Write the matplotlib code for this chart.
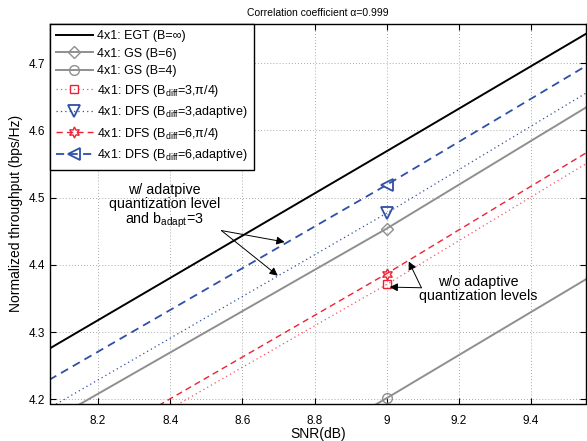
import matplotlib
matplotlib.use("Agg")
import matplotlib.pyplot as plt
from matplotlib.ticker import FuncFormatter

plt.rcParams['font.family'] = ['Liberation Sans', 'DejaVu Sans']
plt.rcParams['mathtext.fontset'] = 'custom'
plt.rcParams['mathtext.rm'] = 'Liberation Sans'
plt.rcParams['mathtext.it'] = 'Liberation Sans'
plt.rcParams['mathtext.default'] = 'rm'

# ---- data ----
snr = [8, 9, 10]
egt = [4.255, 4.569, 4.885]
gs6 = [4.147, 4.454, 4.780]
gs4 = [3.892, 4.202, 4.522]
dfs3_pi4 = [4.063, 4.371, 4.696]
dfs3_adapt = [4.167, 4.477, 4.800]
dfs6_pi4 = [4.077, 4.387, 4.712]
dfs6_adapt = [4.209, 4.519, 4.839]

labels = [
    "4x1: EGT (B=\u221e)",
    "4x1: GS (B=6)",
    "4x1: GS (B=4)",
    "4x1: DFS (B$_{diff}$=3,\u03c0/4)",
    "4x1: DFS (B$_{diff}$=3,adaptive)",
    "4x1: DFS (B$_{diff}$=6,\u03c0/4)",
    "4x1: DFS (B$_{diff}$=6,adaptive)",
]
xticks = [8.2, 8.4, 8.6, 8.8, 9.0, 9.2, 9.4]
yticks = [4.2, 4.3, 4.4, 4.5, 4.6, 4.7]
title = "Correlation coefficient \u03b1=0.999"

fig = plt.figure(figsize=(5.87, 4.41), dpi=100)
ax = fig.add_axes([50/587, 1-403.5/441, 536/587, (403.5-24)/441])

gray = '#8f8f8f'
blue = '#2f4fa8'
red = '#ee2233'
ms = 7

ax.plot(snr, egt, color='black', lw=1.4, label=labels[0])
ax.plot(snr, gs6, color=gray, lw=1.4, marker='D', markersize=6, mfc='none', mec=gray, markevery=[1], label=labels[1])
ax.plot(snr, gs4, color=gray, lw=1.4, marker='o', markersize=ms, mfc='none', mec=gray, markevery=[1], label=labels[2])
ax.plot(snr, dfs3_pi4, color='#f25560', lw=0.9, linestyle=(0, (1, 2.5)), marker='s', markersize=6, mfc='none', mec=red, markevery=[1], label=labels[3])
ax.plot(snr, dfs3_adapt, color=blue, lw=0.9, linestyle=(0, (1, 2.5)), marker='v', markersize=ms+1, mfc='none', mec=blue, mew=1.3, markevery=[1], label=labels[4])
ax.plot(snr, dfs6_pi4, color=red, lw=1.0, linestyle=(0, (4.5, 3)), marker=(6, 1, 0), markersize=ms+1, mfc='none', mec=red, markevery=[1], label=labels[5])
ax.plot(snr, dfs6_adapt, color=blue, lw=1.3, linestyle=(0, (4.5, 3)), marker='<', markersize=ms+1, mfc='none', mec=blue, mew=1.3, markevery=[1], label=labels[6])

ax.set_xlim(8.067, 9.552)
ax.set_ylim(4.194, 4.758)
ax.set_xticks(xticks)
ax.set_yticks(yticks)
ax.xaxis.set_major_formatter(FuncFormatter(lambda v, p: '%g' % round(v, 2)))
ax.yaxis.set_major_formatter(FuncFormatter(lambda v, p: '%g' % round(v, 2)))
ax.tick_params(direction='in', top=True, right=True, length=4, width=0.8, labelsize=8.5, colors='black')
ax.tick_params(axis='x', pad=8)
ax.grid(True, color='#777777', linestyle=(0, (1, 3)), lw=0.55)
for s in ax.spines.values():
    s.set_linewidth(1.0)

ax.set_xlabel("SNR(dB)", fontsize=10, labelpad=0)
ax.set_ylabel("Normalized throughput (bps/Hz)", fontsize=10, labelpad=4)
ax.set_title(title, fontsize=7.5, pad=6)

leg = ax.legend(loc='upper left', fontsize=9, frameon=True, fancybox=False,
                edgecolor='black', framealpha=1, borderaxespad=0.0,
                handlelength=2.9, handletextpad=0.35, labelspacing=0.44,
                borderpad=0.5)
leg.get_frame().set_linewidth(1.0)

# annotations
ax.text(8.385, 4.452, "w/ adatpive\nquantization level\nand b$_{adapt}$=3", fontsize=10.3,
        ha='center', va='bottom', linespacing=1.0)
ap = dict(arrowstyle='-|>', color='black', lw=0.7, mutation_scale=12, shrinkA=0, shrinkB=0)
ax.annotate("", xy=(8.717, 4.434), xytext=(8.542, 4.451), arrowprops=ap)
ax.annotate("", xy=(8.698, 4.384), xytext=(8.542, 4.451), arrowprops=ap)

ax.text(9.254, 4.364, "w/o adaptive\nquantization levels", fontsize=10.3,
        ha='center', va='center', linespacing=1.0)
ax.annotate("", xy=(9.008, 4.367), xytext=(9.096, 4.366), arrowprops=ap)
ax.annotate("", xy=(9.061, 4.405), xytext=(9.096, 4.366), arrowprops=ap)

fig.savefig("out.png", dpi=100)
